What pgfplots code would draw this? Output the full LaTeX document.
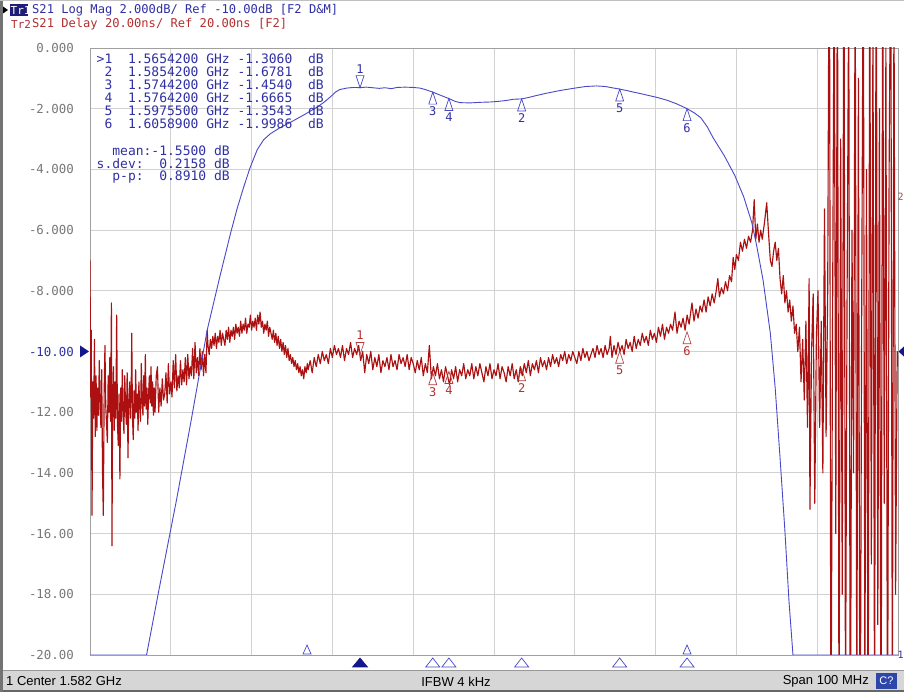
\documentclass[border=0pt]{standalone}
\usepackage{pgfplots}
\pgfplotsset{compat=1.18}
\usepackage{fontspec}
\setmainfont{Liberation Sans}
\newfontfamily\mono{DejaVu Sans Mono}
\newfontfamily\ui{Liberation Sans}
\newcommand{\ssp}{\hphantom{0}}
\definecolor{trblue}{RGB}{72,72,200}
\definecolor{txtblue}{RGB}{48,48,165}
\definecolor{trred}{RGB}{172,16,16}
\definecolor{mkred}{RGB}{185,60,60}
\definecolor{txtred}{RGB}{178,48,48}
\definecolor{gridc}{RGB}{210,210,210}
\definecolor{framec}{RGB}{160,160,160}
\definecolor{tickc}{RGB}{120,120,120}
\definecolor{barc}{RGB}{214,214,214}
\definecolor{navy}{RGB}{22,22,140}
\definecolor{hdrnavy}{RGB}{30,30,120}
\definecolor{cbox}{RGB}{45,70,170}
% marker glyphs (apex at the data point)
\pgfdeclareplotmark{mup}{\pgfpathmoveto{\pgfpointorigin}\pgfpathlineto{\pgfpoint{4pt}{-12pt}}\pgfpathlineto{\pgfpoint{-4pt}{-12pt}}\pgfpathclose\pgfusepathqstroke}
\pgfdeclareplotmark{mdown}{\pgfpathmoveto{\pgfpointorigin}\pgfpathlineto{\pgfpoint{4pt}{12pt}}\pgfpathlineto{\pgfpoint{-4pt}{12pt}}\pgfpathclose\pgfusepathqstroke}
\pgfdeclareplotmark{bind}{\pgfpathmoveto{\pgfpoint{0pt}{-3pt}}\pgfpathlineto{\pgfpoint{7pt}{-12pt}}\pgfpathlineto{\pgfpoint{-7pt}{-12pt}}\pgfpathclose\pgfusepathqstroke}
\pgfdeclareplotmark{bindf}{\pgfpathmoveto{\pgfpoint{0pt}{-3pt}}\pgfpathlineto{\pgfpoint{7.5pt}{-12pt}}\pgfpathlineto{\pgfpoint{-7.5pt}{-12pt}}\pgfpathclose\pgfusepathqfillstroke}
\pgfdeclareplotmark{bindu}{\pgfpathmoveto{\pgfpoint{0pt}{10pt}}\pgfpathlineto{\pgfpoint{4pt}{1pt}}\pgfpathlineto{\pgfpoint{-4pt}{1pt}}\pgfpathclose\pgfusepathqstroke}
\pgfdeclareplotmark{refR}{\pgfpathmoveto{\pgfpoint{-1pt}{0pt}}\pgfpathlineto{\pgfpoint{-10pt}{6pt}}\pgfpathlineto{\pgfpoint{-10pt}{-6pt}}\pgfpathclose\pgfusepathqfill}
\pgfdeclareplotmark{refL}{\pgfpathmoveto{\pgfpoint{0.5pt}{0pt}}\pgfpathlineto{\pgfpoint{7pt}{6pt}}\pgfpathlineto{\pgfpoint{7pt}{-6pt}}\pgfpathclose\pgfusepathqfill}

\pgfplotstableread{
f ns
1532.00 50
1532.08 5
1532.15 27
1532.25 -34
1532.35 10
1532.45 -2
1532.55 24
1532.65 -8
1532.75 12
1532.85 -6
1532.95 8
1533.05 -1
1533.15 17
1533.25 3
1533.35 -5
1533.45 14
1533.55 -20
1533.65 -34
1533.75 6
1533.85 22
1533.95 2
1534.05 -4
1534.15 -10
1534.25 12
1534.35 0
1534.45 18
1534.55 -3
1534.65 36
1534.72 -44
1534.80 2
1534.90 15
1535.00 -6
1535.10 10
1535.20 -2
1535.30 32
1535.40 -4
1535.50 -11
1535.60 6
1535.70 -22
1535.80 8
1535.90 -3
1536.00 14
1536.10 0
1536.20 -7
1536.30 12
1536.40 2
1536.50 -4
1536.60 13
1536.70 -15
1536.80 4
1536.90 10
1537.00 -2
1537.10 8
1537.17 26
1537.25 -1
1537.35 -9
1537.45 7
1537.55 -2
1537.65 14
1537.75 0
1537.85 6
1537.95 -6
1538.05 10
1538.15 2
1538.25 -3
1538.35 16
1538.45 4
1538.55 -1
1538.65 12
1538.75 2
1538.85 19
1538.95 1
1539.05 8
1539.15 -4
1539.25 6
1539.35 12
1539.45 3
1539.55 15
1539.65 2
1539.75 10
1539.85 -1
1539.95 8
1540.05 0
1540.20 12
1540.35 15
1540.50 0
1540.65 8
1540.80 2
1540.95 11
1541.10 4
1541.25 6
1541.40 13
1541.55 3
1541.70 16
1541.85 6
1542.00 10
1542.15 5
1542.30 17
1542.45 8
1542.60 19
1542.75 7
1542.90 12
1543.05 8
1543.20 17
1543.35 9
1543.50 14
1543.65 10
1543.80 18
1543.95 9
1544.10 19
1544.25 11
1544.40 15
1544.55 12
1544.70 21
1544.85 11
1545.00 23
1545.15 13
1545.30 18
1545.45 12
1545.60 21
1545.75 14
1545.90 20
1546.05 12
1546.20 19
1546.35 13
1546.50 27
1546.60 22
1546.75 19
1546.90 24
1547.05 21
1547.20 25
1547.35 22
1547.50 26
1547.65 21
1547.80 25
1547.95 23
1548.10 27
1548.25 22
1548.40 26
1548.55 24
1548.70 22
1548.85 27
1549.00 24
1549.15 28
1549.30 23
1549.45 27
1549.60 25
1549.75 28
1549.90 24
1550.05 29
1550.20 26
1550.35 28
1550.50 25
1550.65 30
1550.80 26
1550.95 29
1551.10 27
1551.25 31
1551.40 26
1551.55 29
1551.70 28
1551.85 32
1552.00 27
1552.15 30
1552.30 28
1552.45 31
1552.60 27
1552.75 32
1552.90 29
1553.05 33
1553.20 28
1553.35 30
1553.50 26
1553.65 29
1553.80 27
1553.95 30
1554.10 25
1554.25 28
1554.40 26
1554.55 24
1554.70 27
1554.85 23
1555.00 26
1555.15 22
1555.30 25
1555.45 21
1555.60 24
1555.75 20
1555.90 23
1556.05 19
1556.20 22
1556.35 18
1556.50 21
1556.65 17
1556.80 19
1556.95 16
1557.10 18
1557.25 15
1557.40 17
1557.55 14
1557.70 16
1557.85 13
1558.00 15
1558.15 12
1558.30 14
1558.45 11
1558.60 15
1558.75 13
1558.90 16
1559.00 14
1559.25 17
1559.50 13
1559.75 18
1560.00 15
1560.25 19
1560.50 16
1560.75 20
1561.00 17
1561.25 19
1561.50 16
1561.75 21
1562.00 18
1562.25 22
1562.50 19
1562.75 21
1563.00 18
1563.25 22
1563.50 17
1563.75 21
1564.00 19
1564.25 23
1564.50 18
1564.75 21
1565.00 19
1565.25 22
1565.50 17
1565.75 20
1566.00 13
1566.25 19
1566.50 16
1566.75 20
1567.00 14
1567.25 18
1567.50 15
1567.75 19
1568.00 13
1568.25 17
1568.50 15
1568.75 18
1569.00 14
1569.25 19
1569.50 15
1569.75 17
1570.00 14
1570.25 19
1570.50 16
1570.75 18
1571.00 15
1571.25 19
1571.50 14
1571.75 18
1572.00 16
1572.25 13
1572.50 17
1572.75 14
1573.00 18
1573.25 12
1573.50 16
1573.75 13
1574.00 22
1574.25 11
1574.50 15
1574.75 12
1575.00 16
1575.25 11
1575.50 14
1575.75 10
1576.00 15
1576.25 12
1576.50 9
1576.75 14
1577.00 11
1577.25 15
1577.50 10
1577.75 14
1578.00 12
1578.25 16
1578.50 11
1578.75 14
1579.00 12
1579.25 16
1579.50 11
1579.75 15
1580.00 12
1580.25 16
1580.50 13
1580.75 10
1581.00 15
1581.25 12
1581.50 16
1581.75 11
1582.00 14
1582.25 12
1582.50 16
1582.75 11
1583.00 15
1583.25 13
1583.50 10
1583.75 15
1584.00 12
1584.25 16
1584.50 11
1584.75 14
1585.00 10
1585.25 15
1585.50 12
1585.75 16
1586.00 13
1586.25 17
1586.50 12
1586.75 16
1587.00 14
1587.25 17
1587.50 13
1587.75 18
1588.00 15
1588.25 17
1588.50 14
1588.75 18
1589.00 15
1589.25 19
1589.50 16
1589.75 18
1590.00 15
1590.25 19
1590.50 17
1590.75 20
1591.00 16
1591.25 19
1591.50 17
1591.75 20
1592.00 18
1592.25 16
1592.50 20
1592.75 17
1593.00 21
1593.25 18
1593.50 20
1593.75 17
1594.00 19
1594.25 21
1594.50 18
1594.75 22
1595.00 19
1595.25 21
1595.50 18
1595.75 22
1596.00 19
1596.25 21
1596.40 25
1596.60 18
1596.85 22
1597.10 19
1597.35 23
1597.60 20
1597.85 22
1598.10 19
1598.35 24
1598.60 21
1598.85 23
1599.10 20
1599.35 25
1599.60 21
1599.85 24
1600.10 22
1600.35 26
1600.60 23
1600.85 25
1601.10 22
1601.35 27
1601.60 24
1601.85 26
1602.10 23
1602.35 28
1602.60 25
1602.85 29
1603.10 24
1603.35 28
1603.60 26
1603.85 29
1604.10 27
1604.40 33
1604.65 26
1604.90 30
1605.15 28
1605.40 31
1605.65 27
1605.90 32
1606.15 29
1606.50 36
1606.75 30
1607.00 34
1607.25 31
1607.50 35
1607.75 33
1608.00 37
1608.25 33
1608.50 38
1608.75 35
1609.00 39
1609.25 36
1609.50 40
1609.70 44
1609.90 38
1610.15 41
1610.40 39
1610.65 43
1610.90 40
1611.15 45
1611.40 43
1611.60 51
1611.80 47
1612.00 52
1612.25 50
1612.50 56
1612.75 53
1613.00 57
1613.25 54
1613.50 58
1613.75 56
1614.00 60
1614.20 70
1614.40 57
1614.60 62
1614.80 56
1615.00 60
1615.20 57
1615.50 63
1615.75 69
1616.00 58
1616.20 50
1616.40 48
1616.60 53
1616.80 56
1617.00 50
1617.20 54
1617.40 44
1617.60 39
1617.80 45
1618.00 36
1618.20 40
1618.40 33
1618.60 37
1618.80 30
1619.00 35
1619.20 26
1619.40 29
1619.60 20
1619.80 28
1620.00 10
1620.20 24
1620.40 4
1620.60 30
1620.80 -5
1621.00 44
1621.10 -32
1621.30 20
1621.50 39
1621.70 -30
1621.90 25
1622.10 40
1622.30 -5
1622.50 30
1622.70 -20
1622.90 67
1623.10 -8
1623.30 40
1623.50 180
1623.70 -120
1623.90 30
1624.10 150
1624.30 -40
1624.50 160
1624.70 -110
1624.90 90
1625.10 -60
1625.30 170
1625.50 -100
1625.70 40
1625.90 140
1626.10 -130
1626.30 60
1626.50 -20
1626.70 150
1626.90 -100
1627.10 110
1627.30 -140
1627.50 30
1627.70 160
1627.90 -90
1628.10 80
1628.30 -120
1628.50 150
1628.70 -50
1628.90 130
1629.10 -110
1629.30 170
1629.50 -70
1629.70 100
1629.90 -130
1630.10 150
1630.30 -30
1630.50 120
1630.70 -120
1630.90 80
1631.10 160
1631.30 -100
1631.50 140
1631.70 -60
1631.90 20
1632.00 15
}\delaytab

\pgfplotstableread{
f dB
1532.0 -20
1539.0 -20
1540.5 -17.9
1542.7 -14.9
1544.5 -12.3
1546.5 -9.3
1548.1 -7.5
1549.4 -6.1
1550.2 -5.3
1551.0 -4.6
1551.8 -3.95
1552.7 -3.35
1553.5 -3.02
1554.3 -2.83
1555.5 -2.63
1556.8 -2.45
1558.5 -2.2
1560.1 -1.95
1561.0 -1.78
1561.8 -1.6
1562.4 -1.45
1562.9 -1.37
1563.8 -1.32
1564.6 -1.30
1565.42 -1.306
1566.2 -1.29
1567.0 -1.31
1567.8 -1.33
1568.5 -1.31
1569.3 -1.34
1570.0 -1.30
1571.0 -1.29
1572.0 -1.30
1572.8 -1.32
1573.5 -1.37
1574.42 -1.454
1575.4 -1.56
1576.42 -1.667
1577.2 -1.76
1577.8 -1.80
1579.0 -1.81
1580.3 -1.79
1581.5 -1.78
1582.5 -1.76
1583.5 -1.73
1584.4 -1.69
1585.42 -1.678
1586.3 -1.63
1587.2 -1.57
1588.5 -1.49
1590.2 -1.40
1591.8 -1.33
1593.3 -1.27
1594.7 -1.25
1595.8 -1.27
1596.6 -1.31
1597.55 -1.354
1598.4 -1.40
1599.2 -1.45
1600.1 -1.50
1600.9 -1.55
1602.2 -1.63
1603.4 -1.72
1604.6 -1.84
1605.89 -1.999
1606.8 -2.14
1607.6 -2.3
1608.4 -2.6
1609.1 -2.95
1610.5 -3.55
1611.8 -4.2
1612.9 -4.9
1613.9 -5.75
1614.5 -6.5
1615.3 -7.65
1616.2 -9.4
1616.8 -11.2
1617.4 -13.5
1618.0 -15.9
1618.5 -18.2
1619.0 -20
1632.0 -20
}\magtab

\pgfplotsset{
  vnabase/.style={at={(90pt,37pt)}, anchor=south west, scale only axis,
    width=808pt, height=607pt, xmin=1532, xmax=1632},
}

\begin{document}
\begin{tikzpicture}[x=1pt,y=1pt]
\path[use as bounding box] (0,0) rectangle (904,692);
\fill[white] (0,0) rectangle (904,692);
% frame of the screen
\fill[barc] (0,0) rectangle (904,21);
\draw[gray!80, line width=0.8pt] (0,21.4) -- (904,21.4);
\fill[black!60] (0,0) rectangle (904,1.5);
\fill[black!55] (0,0) rectangle (2.5,692);
\draw[gray!50, line width=0.8pt] (0,691.6) -- (904,691.6);

% grid and tick labels
\begin{axis}[vnabase, ymin=-20, ymax=0,
  xtick={1542,1552,...,1622}, xticklabel=\empty,
  ytick={-20,-18,...,0},
  yticklabels={-20.00,-18.00,-16.00,-14.00,-12.00,{\textcolor{txtblue}{-10.00}},-8.000,-6.000,-4.000,-2.000,0.000},
  yticklabel style={font=\mono\fontsize{12.4}{12.4}\selectfont, text=tickc, anchor=east, inner sep=0pt, xshift=-16pt},
  major tick length=0pt,
  grid=major, major grid style={draw=gridc, line width=0.8pt},
  axis line style={draw=framec, line width=0.9pt}]
\end{axis}

% Tr2: group delay, ns (20 ns/div, ref 20 ns at the middle line)
\begin{axis}[vnabase, ymin=-80, ymax=120, hide axis]
\addplot[trred, line width=1.15pt, line join=round] table[x=f, y=ns] {\delaytab};
\addplot[only marks, mark=mdown, mark options={draw=mkred, line width=0.7pt},
  nodes near coords, point meta=explicit symbolic,
  every node near coord/.append style={anchor=center, yshift=19pt, font=\mono\fontsize{12}{12}\selectfont, text=txtred}]
  coordinates {(1565.42,19) [1]};
\addplot[only marks, mark=mup, mark options={draw=mkred, line width=0.7pt},
  nodes near coords, point meta=explicit symbolic,
  every node near coord/.append style={anchor=center, yshift=-19pt, font=\mono\fontsize{12}{12}\selectfont, text=txtred}]
  coordinates {(1574.42,13) [3] (1576.42,13.4) [4] (1585.42,14.3) [2] (1597.555,20.1) [5] (1605.89,26.5) [6]};
\end{axis}

% Tr1: log magnitude, dB
\begin{axis}[vnabase, ymin=-20, ymax=0, hide axis]
\addplot[trblue, line width=0.9pt, line join=round] table[x=f, y=dB] {\magtab};
\end{axis}

% markers and indicators (not clipped)
\begin{axis}[vnabase, ymin=-20, ymax=0, hide axis, clip=false]
\addplot[only marks, mark=mdown, mark options={draw=trblue, line width=0.7pt},
  nodes near coords, point meta=explicit symbolic,
  every node near coord/.append style={anchor=center, yshift=19pt, font=\mono\fontsize{12}{12}\selectfont, text=txtblue}]
  coordinates {(1565.42,-1.306) [1]};
\addplot[only marks, mark=mup, mark options={draw=trblue, line width=0.7pt},
  nodes near coords, point meta=explicit symbolic,
  every node near coord/.append style={anchor=center, yshift=-19pt, font=\mono\fontsize{12}{12}\selectfont, text=txtblue}]
  coordinates {(1574.42,-1.454) [3] (1576.42,-1.6665) [4] (1585.42,-1.6781) [2] (1597.555,-1.3543) [5] (1605.89,-1.9986) [6]};
% marker position indicators under the graticule
\addplot[only marks, mark=bindf, mark options={draw=navy, fill=navy, line width=0.6pt}] coordinates {(1565.42,-20)};
\addplot[only marks, mark=bind, mark options={draw=trblue, line width=0.7pt}] coordinates {(1574.42,-20) (1576.42,-20) (1585.42,-20) (1597.555,-20) (1605.89,-20)};
\addplot[only marks, mark=bindu, mark options={draw=trblue, line width=0.7pt}] coordinates {(1558.86,-20) (1605.89,-20)};
% reference level indicators
\addplot[only marks, mark=refR, mark options={fill=navy, draw=none}] coordinates {(1532,-10)};
\addplot[only marks, mark=refL, mark options={fill=navy, draw=none}] coordinates {(1632,-10)};
\end{axis}

% header
\fill[black] (3,685.5) -- (8,682) -- (3,678.5) -- cycle;
\fill[hdrnavy] (10,675.5) rectangle (28,688);
\node[anchor=west, inner sep=0pt, text=white, font=\mono\fontsize{11}{11}\selectfont] at (10.5,681.5) {Tr1};
\node[anchor=west, inner sep=0pt, text=txtblue, font=\mono\fontsize{12.1}{12.1}\selectfont] at (32,681.5) {S21 Log Mag 2.000dB/ Ref -10.00dB [F2 D\&M]};
\node[anchor=west, inner sep=0pt, text=txtred, font=\mono\fontsize{11}{11}\selectfont] at (11,668) {Tr2};
\node[anchor=west, inner sep=0pt, text=txtred, font=\mono\fontsize{12.1}{12.1}\selectfont] at (32,668) {S21 Delay 20.00ns/ Ref 20.00ns [F2]};

% marker table
\begin{scope}[every node/.style={anchor=west, inner sep=0pt, text=txtblue, font=\mono\fontsize{13}{13}\selectfont}]
\node at (96.5,633) {>1\ssp\ssp 1.5654200 GHz -1.3060\ssp\ssp dB};
\node at (96.5,620) {\ssp 2\ssp\ssp 1.5854200 GHz -1.6781\ssp\ssp dB};
\node at (96.5,607) {\ssp 3\ssp\ssp 1.5744200 GHz -1.4540\ssp\ssp dB};
\node at (96.5,594) {\ssp 4\ssp\ssp 1.5764200 GHz -1.6665\ssp\ssp dB};
\node at (96.5,581) {\ssp 5\ssp\ssp 1.5975500 GHz -1.3543\ssp\ssp dB};
\node at (96.5,568) {\ssp 6\ssp\ssp 1.6058900 GHz -1.9986\ssp\ssp dB};
\node at (96.5,541) {\ssp\ssp mean:-1.5500 dB};
\node at (96.5,528) {s.dev:\ssp\ssp 0.2158 dB};
\node at (96.5,515) {\ssp\ssp p-p:\ssp\ssp 0.8910 dB};
\end{scope}

% right edge labels
\node[anchor=west, inner sep=0pt, text=mkred!70!gray, font=\mono\fontsize{10}{10}\selectfont] at (897.5,495) {2};
\node[anchor=west, inner sep=0pt, text=txtblue, font=\mono\fontsize{10}{10}\selectfont] at (897.5,37) {1};

% status bar
\node[anchor=west, inner sep=0pt, font=\ui\fontsize{13}{13}\selectfont] at (6,10.5) {1 Center 1.582 GHz};
\node[anchor=center, inner sep=0pt, font=\ui\fontsize{13}{13}\selectfont] at (456,10.5) {IFBW 4 kHz};
\node[anchor=east, inner sep=0pt, font=\ui\fontsize{13}{13}\selectfont] at (869,10.5) {Span 100 MHz};
\fill[cbox] (876,3) rectangle (897,19);
\node[anchor=center, inner sep=0pt, text=white, font=\ui\fontsize{11}{11}\selectfont] at (886.5,11) {C?};
\end{tikzpicture}
\end{document}
